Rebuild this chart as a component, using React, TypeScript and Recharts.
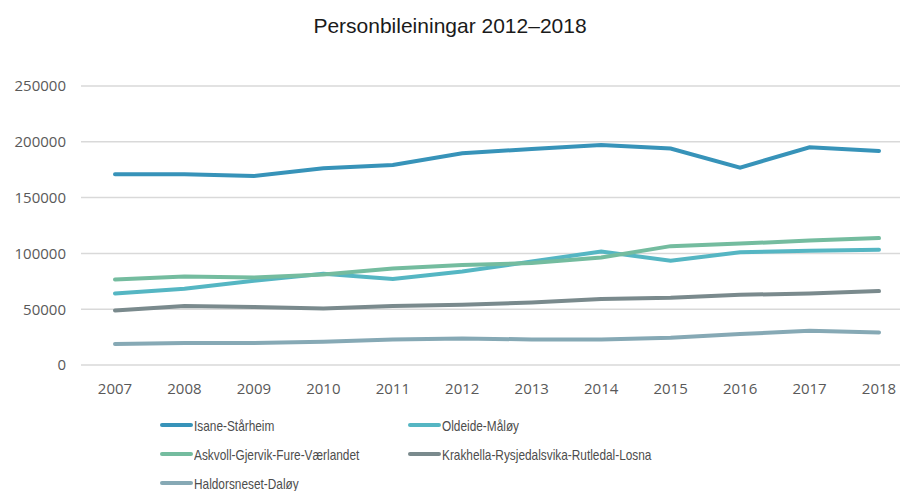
import { LineChart, Line, XAxis, YAxis, CartesianGrid } from 'recharts';

const years = ['2007', '2008', '2009', '2010', '2011', '2012', '2013', '2014', '2015', '2016', '2017', '2018'];

const isane = [171000, 171000, 169400, 176300, 179300, 189800, 193600, 197200, 193900, 176900, 195100, 191800];
const oldeide = [64100, 68300, 75500, 81700, 77000, 83800, 92700, 101700, 93400, 101100, 102300, 103200];
const askvoll = [76600, 79300, 78400, 81100, 86500, 89500, 91300, 96300, 106500, 108800, 111500, 113700];
const krakhella = [48900, 52800, 51900, 50700, 52800, 54000, 56000, 59100, 60200, 62900, 64100, 66200];
const haldorsneset = [18800, 19700, 19700, 20900, 22900, 23800, 22900, 22900, 24400, 27700, 30700, 29200];

const yTicks = [0, 50000, 100000, 150000, 200000, 250000];

const series = [
  { key: 'isane', name: 'Isane-Stårheim', color: '#3793b9', values: isane },
  { key: 'oldeide', name: 'Oldeide-Måløy', color: '#55b6c3', values: oldeide },
  { key: 'askvoll', name: 'Askvoll-Gjervik-Fure-Værlandet', color: '#74bc9f', values: askvoll },
  { key: 'krakhella', name: 'Krakhella-Rysjedalsvika-Rutledal-Losna', color: '#7a8a8d', values: krakhella },
  { key: 'haldorsneset', name: 'Haldorsneset-Daløy', color: '#86a9b5', values: haldorsneset },
];

const data = years.map((year, i) => {
  const row: Record<string, string | number> = { year };
  series.forEach((s) => (row[s.key] = s.values[i]));
  return row;
});

const tickStyle = { fontFamily: '"Open Sans"', fontSize: 15, fill: '#595959' };
const labelFont = '"Liberation Sans", sans-serif';

export default function App() {
  return (
    <div style={{ position: 'absolute', left: 0, top: 0, width: 900, height: 491, background: '#fff' }}>
      <div
        style={{
          position: 'absolute',
          top: 14,
          width: 900,
          textAlign: 'center',
          fontFamily: labelFont,
          fontSize: 21,
          color: '#1a1a1a',
        }}
      >
        Personbileiningar 2012–2018
      </div>
      <LineChart width={900} height={491} data={data} margin={{ top: 86, right: 0, left: 0, bottom: 96 }}>
        <CartesianGrid vertical={false} stroke="#d9d9d9" strokeWidth={1.5} />
        <XAxis
          dataKey="year"
          axisLine={false}
          tickLine={false}
          height={30}
          tickMargin={12}
          padding={{ left: 34, right: 21 }}
          tick={tickStyle}
          interval={0}
        />
        <YAxis
          domain={[0, 250000]}
          ticks={yTicks}
          axisLine={false}
          tickLine={false}
          width={81}
          tickMargin={9}
          tick={tickStyle}
        />
        {series.map((s) => (
          <Line
            key={s.key}
            dataKey={s.key}
            name={s.name}
            stroke={s.color}
            strokeWidth={4}
            dot={false}
            isAnimationActive={false}
            strokeLinecap="round"
          />
        ))}
      </LineChart>
      {series.map((s, i) => (
        <div
          key={s.key}
          style={{
            position: 'absolute',
            left: i % 2 === 0 ? 160 : 408,
            top: 415 + Math.floor(i / 2) * 29,
            height: 20,
            display: 'flex',
            alignItems: 'center',
            fontFamily: labelFont,
            fontSize: 15,
            color: '#4d4d4d',
            whiteSpace: 'nowrap',
          }}
        >
          <span style={{ display: 'inline-block', width: 33, height: 4, borderRadius: 2, background: s.color, marginRight: 1 }} />
          <span style={{ display: 'inline-block', transform: 'scaleX(0.79)', transformOrigin: 'left center' }}>{s.name}</span>
        </div>
      ))}
    </div>
  );
}
